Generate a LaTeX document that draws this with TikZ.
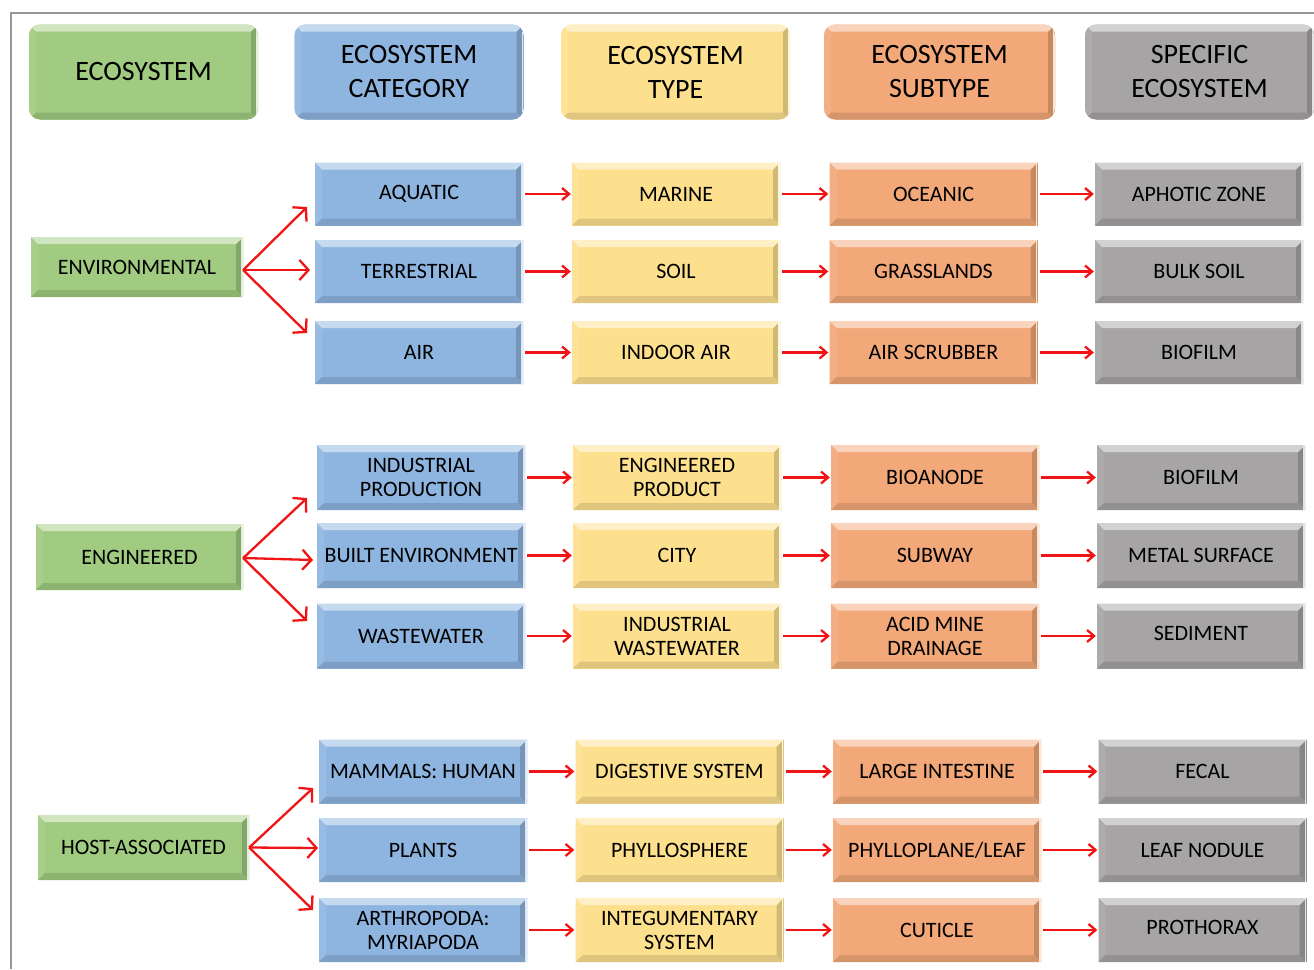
\documentclass[tikz,border=0pt]{standalone}
\usepackage{fontspec}
\setmainfont{Carlito}
\usetikzlibrary{arrows.meta,calc}
\definecolor{cgreen}{RGB}{160,203,128}
\definecolor{cblue}{RGB}{142,181,224}
\definecolor{cyellow}{RGB}{253,224,142}
\definecolor{corange}{RGB}{242,168,120}
\definecolor{cgray}{RGB}{166,164,164}
\definecolor{cframe}{RGB}{150,150,150}
\definecolor{cred}{RGB}{240,20,20}
\begin{document}
\begin{tikzpicture}[x=1pt,y=-1pt,
  bev/.style={fill=#1, draw=none, inner sep=0pt, align=center, text=black,
    font=\fontsize{22}{24}\selectfont,
    path picture={
      \path (path picture bounding box.north west) coordinate (pnw)
            (path picture bounding box.north east) coordinate (pne)
            (path picture bounding box.south west) coordinate (psw)
            (path picture bounding box.south east) coordinate (pse);
      \fill[sharp corners,#1!92!white] (pnw) -- ([shift={(7pt,-7pt)}]pnw) -- ([shift={(7pt,7pt)}]psw) -- (psw) -- cycle;
      \fill[sharp corners,#1!82!black] (pne) -- ([shift={(-7pt,-7pt)}]pne) -- ([shift={(-7pt,7pt)}]pse) -- (pse) -- cycle;
      \fill[sharp corners,#1!88!black] (psw) -- ([shift={(7pt,7pt)}]psw) -- ([shift={(-7pt,7pt)}]pse) -- (pse) -- cycle;
      \fill[sharp corners,#1!50!white] (pnw) -- (pne) -- ([shift={(-7pt,-7pt)}]pne) -- ([shift={(7pt,-7pt)}]pnw) -- cycle;
      \draw[sharp corners,white!70!#1,line width=1.5pt] ([xshift=-0.8pt]pne) -- ([xshift=-0.8pt]pse);
    }},
  hdr/.style={bev=#1, rounded corners=11pt, minimum width=229pt, minimum height=95pt,
    font=\fontsize{28}{34}\selectfont},
  harr/.style={draw=cred, line width=2.3pt, shorten <=2pt, shorten >=1pt,
    -{Straight Barb[length=7pt,width=12pt]}},
  fan/.style={draw=cred, line width=2.3pt, -{Straight Barb[length=9pt,width=20pt]}}
]
\useasboundingbox (0,0) rectangle (1314,969);
\fill[white] (0,0) rectangle (1314,969);
\draw[cframe, line width=2.5pt] (11,969) -- (11,13) -- (1316,13);

% headers
\node[hdr=cgreen]  (hEco)  at (143.5,72) {ECOSYSTEM};
\node[hdr=cblue]   (hCat)  at (409,72)   {ECOSYSTEM\\CATEGORY};
\node[hdr=cyellow] (hType) at (675.5,72) {ECOSYSTEM\\TYPE};
\node[hdr=corange, minimum width=231pt] (hSub) at (939.5,72) {ECOSYSTEM\\SUBTYPE};
\node[hdr=cgray]   (hSpec) at (1199.5,72) {SPECIFIC\\ECOSYSTEM};

% environmental
\node[bev=cgreen, minimum width=212pt, minimum height=60pt] (env) at (137,267) {ENVIRONMENTAL};
\begin{scope}[every node/.append style={minimum width=208pt, minimum height=63pt}]
\node[bev=cblue]   (r1c1) at (419,194) {AQUATIC};
\node[bev=cyellow] (r1c2) at (676,194) {MARINE};
\node[bev=corange] (r1c3) at (933.5,194) {OCEANIC};
\node[bev=cgray]   (r1c4) at (1199,194) {APHOTIC ZONE};
\node[bev=cblue]   (r2c1) at (419,271.5) {TERRESTRIAL};
\node[bev=cyellow] (r2c2) at (676,271.5) {SOIL};
\node[bev=corange] (r2c3) at (933.5,271.5) {GRASSLANDS};
\node[bev=cgray]   (r2c4) at (1199,271.5) {BULK SOIL};
\node[bev=cblue]   (r3c1) at (419,352.5) {AIR};
\node[bev=cyellow] (r3c2) at (676,352.5) {INDOOR AIR};
\node[bev=corange] (r3c3) at (933.5,352.5) {AIR SCRUBBER};
\node[bev=cgray]   (r3c4) at (1199,352.5) {BIOFILM};
\end{scope}

% engineered
\node[bev=cgreen, minimum width=207pt, minimum height=66pt] (eng) at (139.5,557) {ENGINEERED};
\begin{scope}[every node/.append style={minimum width=208pt, minimum height=65pt}]
\node[bev=cblue]   (r4c1) at (421,477.5) {INDUSTRIAL\\PRODUCTION};
\node[bev=cyellow] (r4c2) at (677,477.5) {ENGINEERED\\PRODUCT};
\node[bev=corange] (r4c3) at (935,477.5) {BIOANODE};
\node[bev=cgray]   (r4c4) at (1201,477.5) {BIOFILM};
\node[bev=cblue]   (r5c1) at (421,555.5) {BUILT ENVIRONMENT};
\node[bev=cyellow] (r5c2) at (677,555.5) {CITY};
\node[bev=corange] (r5c3) at (935,555.5) {SUBWAY};
\node[bev=cgray]   (r5c4) at (1201,555.5) {METAL SURFACE};
\node[bev=cblue]   (r6c1) at (421,636) {WASTEWATER};
\node[bev=cyellow] (r6c2) at (677,636) {INDUSTRIAL\\WASTEWATER};
\node[bev=corange] (r6c3) at (935,636) {ACID MINE\\DRAINAGE};
\node[bev=cgray]   (r6c4) at (1201,636) {\raisebox{6pt}{SEDIMENT}};
\end{scope}

% host-associated
\node[bev=cgreen, minimum width=211pt, minimum height=65pt] (host) at (143.5,847.5) {HOST-ASSOCIATED};
\begin{scope}[every node/.append style={minimum width=208pt, minimum height=64pt}]
\node[bev=cblue]   (r7c1) at (423,771.5) {MAMMALS: HUMAN};
\node[bev=cyellow] (r7c2) at (679.5,771.5) {DIGESTIVE SYSTEM};
\node[bev=corange] (r7c3) at (937,771.5) {LARGE INTESTINE};
\node[bev=cgray]   (r7c4) at (1202.5,771.5) {FECAL};
\node[bev=cblue]   (r8c1) at (423,850) {PLANTS};
\node[bev=cyellow] (r8c2) at (679.5,850) {PHYLLOSPHERE};
\node[bev=corange] (r8c3) at (937,850) {PHYLLOPLANE/LEAF};
\node[bev=cgray]   (r8c4) at (1202.5,850) {LEAF NODULE};
\node[bev=cblue]   (r9c1) at (423,930) {ARTHROPODA:\\MYRIAPODA};
\node[bev=cyellow] (r9c2) at (679.5,930) {INTEGUMENTARY\\SYSTEM};
\node[bev=corange] (r9c3) at (937,930) {CUTICLE};
\node[bev=cgray]   (r9c4) at (1202.5,930) {\raisebox{6pt}{PROTHORAX}};
\end{scope}

% horizontal arrows
\foreach \r in {1,...,9}{
  \draw[harr] (r\r c1.east) -- (r\r c2.west);
  \draw[harr] (r\r c2.east) -- (r\r c3.west);
  \draw[harr] (r\r c3.east) -- (r\r c4.west);
}

% fan arrows
\coordinate (e1) at (307,207);
\coordinate (e2) at (310,270);
\coordinate (e3) at (307,333);
\coordinate (g1) at (307,498);
\coordinate (g2) at (313,560);
\coordinate (g3) at (307,621);
\coordinate (h1) at (313,788);
\coordinate (h2) at (318,848);
\coordinate (h3) at (313,910);
\foreach \t in {e1,e2,e3}{\draw[fan] ([yshift=-3pt]env.east) -- (\t);}
\foreach \t in {g1,g2,g3}{\draw[fan] ([yshift=-1pt]eng.east) -- (\t);}
\foreach \t in {h1,h2,h3}{\draw[fan] (host.east) -- (\t);}
\end{tikzpicture}
\end{document}
